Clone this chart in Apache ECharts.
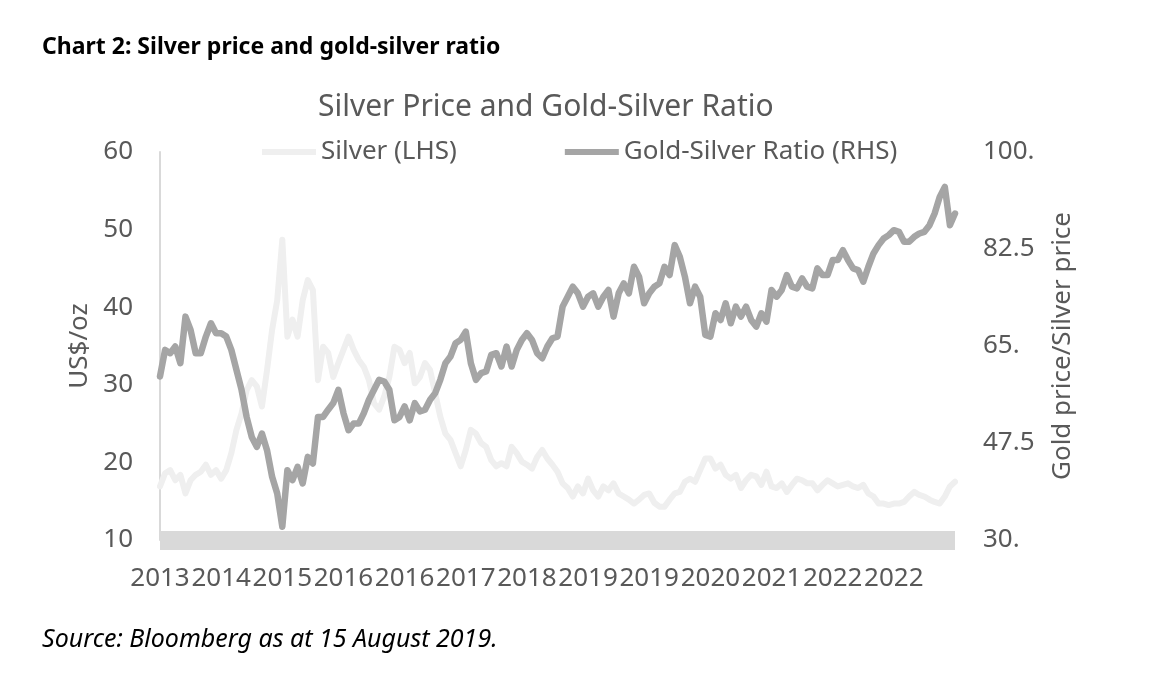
<!DOCTYPE html>
<html>
<head>
<meta charset="utf-8">
<title>Silver price and gold-silver ratio</title>
<script src="https://cdn.jsdelivr.net/npm/echarts@6/dist/echarts.min.js"></script>
<style>
	html, body { margin: 0; padding: 0; background: #fff; }
	#main { width: 1173px; height: 683px; }
</style>
</head>
<body>
<div id="main"></div>
<script type="text/javascript">
	// tick labels shown on the x axis (as printed in the source chart)
	var yearLabels = ['2013','2014','2015','2016','2016','2017','2018','2019','2019','2020','2021','2022','2022'];
	var labelStep = 12;

	// silver price, US$/oz (left axis)
	var silver = [
		16.9,18.6,19.0,17.7,18.4,16.0,17.7,18.4,18.8,19.7,18.4,19.0,17.9,19.0,21.2,24.2,
		26.3,29.3,30.6,29.8,27.2,31.9,37.1,40.9,48.7,36.2,38.4,36.2,40.9,43.5,42.2,30.6,
		34.9,34.1,31.0,32.8,34.5,36.2,34.5,33.2,32.3,30.6,27.6,26.8,28.5,31.0,34.9,34.5,
		32.8,34.1,30.2,31.0,32.8,31.9,28.9,25.9,23.7,22.9,21.2,19.5,21.6,24.2,23.7,22.5,
		22.0,20.3,19.5,19.9,19.5,22.0,21.2,20.1,19.7,19.2,20.7,21.6,20.5,19.7,18.8,17.3,
		16.7,15.6,16.9,16.0,17.9,16.4,15.6,16.9,16.4,17.3,16.0,15.6,15.2,14.7,15.2,15.8,
		16.0,14.8,14.3,14.3,15.2,16.0,16.2,17.5,17.9,17.5,19.0,20.5,20.5,19.2,19.7,18.4,
		17.9,18.4,16.7,17.7,18.4,18.2,17.1,18.8,16.9,16.7,17.3,16.2,17.1,17.9,17.7,17.3,
		17.3,16.4,17.1,17.7,17.3,16.9,17.1,17.3,16.9,16.7,17.1,16.0,15.6,14.7,14.7,14.5,
		14.7,14.7,14.9,15.6,16.2,15.8,15.6,15.2,14.9,14.7,15.6,16.9,17.5
	];

	// gold price / silver price (right axis)
	var ratio = [
		59.5,64.3,63.7,64.9,61.9,70.3,67.9,63.7,63.7,66.7,69.1,67.3,67.3,66.7,64.3,60.7,
		57.1,52.2,48.6,46.8,49.2,46.2,41.4,38.4,32.4,42.6,40.8,43.2,40.2,45.0,43.8,52.2,
		52.2,53.5,54.7,57.1,52.9,49.8,51.0,51.0,52.9,55.3,57.1,58.9,58.6,57.1,51.6,52.2,
		54.1,51.6,54.7,53.2,53.5,55.3,56.5,58.9,61.9,63.1,65.5,66.1,67.6,61.9,58.9,60.1,
		60.4,63.4,63.7,61.3,64.9,61.3,64.3,66.1,67.3,66.1,63.7,62.8,64.9,66.4,66.7,72.1,
		73.9,75.7,74.5,72.1,73.9,74.5,72.1,73.9,75.1,70.3,74.5,76.3,74.5,79.3,77.5,72.7,
		74.5,75.7,76.3,79.3,77.8,83.2,81.1,77.5,72.7,75.7,73.9,67.0,66.7,70.9,69.7,72.7,
		69.1,72.1,70.3,72.1,69.7,68.5,70.9,69.4,75.1,73.9,75.1,77.8,75.7,75.4,77.2,75.7,
		75.4,79.0,77.8,77.8,80.5,80.5,82.3,80.5,79.0,78.7,76.6,79.3,81.7,83.2,84.4,85.0,
		85.9,85.6,83.8,83.8,84.7,85.3,85.6,86.8,88.9,91.9,93.7,86.8,88.9
	];

	var categories = [];
	for (var i = 0; i < silver.length; i++) {
		categories.push(yearLabels[Math.min(Math.floor(i / labelStep), yearLabels.length - 1)]);
	}

	var textGrey = '#595959';
	var fontName = '"Noto Sans", "Open Sans", sans-serif';

	var myChart = echarts.init(document.getElementById('main'), null, {renderer: 'canvas'});

	var option = {
		animation: false,
		backgroundColor: '#fff',
		title: [{
			text: 'Chart 2: Silver price and gold-silver ratio',
			left: 42,
			top: 36,
			padding: 0,
			textStyle: {fontFamily: fontName, fontSize: 23, fontWeight: 'bold', color: '#000'}
		}, {
			text: 'Silver Price and Gold-Silver Ratio',
			left: 318,
			top: 92,
			padding: 0,
			textStyle: {fontFamily: fontName, fontSize: 30, fontWeight: 'normal', color: textGrey}
		}, {
			text: 'Source: Bloomberg as at 15 August 2019.',
			left: 42,
			top: 627,
			padding: 0,
			textStyle: {fontFamily: fontName, fontSize: 25, fontStyle: 'italic', fontWeight: 'normal', color: '#000'}
		}],
		legend: {
			left: 262,
			top: 139,
			padding: 0,
			icon: 'rect',
			itemWidth: 54,
			itemHeight: 6,
			itemGap: 108,
			textStyle: {fontFamily: fontName, fontSize: 26, color: textGrey},
			data: ['Silver (LHS)', 'Gold-Silver Ratio (RHS)']
		},
		grid: {
			left: 160,
			right: 218,
			top: 152,
			bottom: 143
		},
		xAxis: {
			type: 'category',
			data: categories,
			boundaryGap: false,
			axisLine: {onZero: false, lineStyle: {color: '#d9d9d9', width: 19, cap: 'butt'}},
			axisTick: {show: false},
			splitLine: {show: false},
			axisLabel: {
				interval: labelStep - 1,
				showMaxLabel: false,
				margin: 26,
				fontFamily: fontName,
				fontSize: 26,
				color: textGrey
			}
		},
		yAxis: [{
			type: 'value',
			min: 10,
			max: 60,
			interval: 10,
			name: 'US$/oz',
			nameLocation: 'middle',
			nameGap: 66,
			nameTextStyle: {fontFamily: fontName, fontSize: 26, color: textGrey},
			axisLine: {show: true, lineStyle: {color: '#d9d9d9', width: 2}},
			axisTick: {show: false},
			splitLine: {show: false},
			axisLabel: {margin: 27, fontFamily: fontName, fontSize: 26, color: textGrey}
		}, {
			type: 'value',
			min: 30,
			max: 100,
			interval: 17.5,
			name: 'Gold price/Silver price',
			nameLocation: 'middle',
			nameGap: 95,
			nameRotate: 90,
			nameTextStyle: {fontFamily: fontName, fontSize: 26, color: textGrey},
			axisLine: {show: false},
			axisTick: {show: false},
			splitLine: {show: false},
			axisLabel: {
				margin: 28,
				fontFamily: fontName,
				fontSize: 26,
				color: textGrey,
				formatter: function (v) {
					return (v % 1 === 0) ? v + '.' : String(v);
				}
			}
		}],
		series: [{
			name: 'Silver (LHS)',
			type: 'line',
			yAxisIndex: 0,
			data: silver,
			showSymbol: false,
			color: '#efefef',
			lineStyle: {color: '#efefef', width: 6, cap: 'round', join: 'round'}
		}, {
			name: 'Gold-Silver Ratio (RHS)',
			type: 'line',
			yAxisIndex: 1,
			data: ratio,
			showSymbol: false,
			color: '#a5a5a5',
			lineStyle: {color: '#a5a5a5', width: 6.5, cap: 'round', join: 'round'}
		}]
	};

	myChart.setOption(option);
</script>
</body>
</html>
